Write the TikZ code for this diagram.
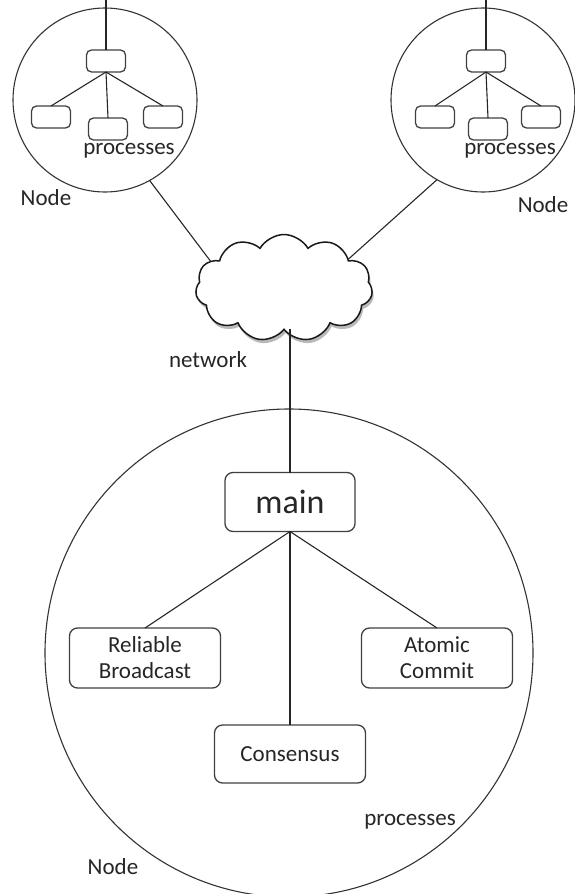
\documentclass[tikz,border=0pt]{standalone}
\usepackage{fontspec}
\setmainfont{Carlito}
\usetikzlibrary{shapes.symbols, shadows}

\begin{document}
\begin{tikzpicture}[
    x=0.5pt, y=-0.5pt,
    font=\fontsize{11.5}{13}\selectfont,
    every node/.style={inner sep=1.5pt, text=black!85},
    host/.style    ={circle, draw=black!80, line width=0.55pt,
                     minimum size=92pt, inner sep=0pt, outer sep=0pt},
    proc/.style    ={rectangle, rounded corners=2.5pt, draw=black!75,
                     line width=0.65pt, minimum width=19.5pt,
                     minimum height=11pt, outer sep=0pt},
    module/.style  ={proc, rounded corners=4pt, minimum width=75.5pt,
                     minimum height=30pt, align=center},
    link/.style    ={line width=0.55pt, draw=black!85},
    lbl/.style     ={font=\fontsize{11.5}{13}\selectfont},
    netcloud/.style={cloud, cloud puffs=11, cloud puff arc=120, aspect=1.65,
                     draw=black!90, line width=0.75pt, fill=white,
                     minimum width=88.5pt, minimum height=53.5pt,
                     inner sep=0pt, outer sep=0pt,
                     drop shadow={shadow xshift=0.8pt, shadow yshift=-1.8pt,
                                  fill=black!55}},
  ]
  \useasboundingbox (0,0) rectangle (574,894);

  %% --- network in the middle ---------------------------------------------
  \node[netcloud] (net) at (284,288) {};
  \node[lbl] (netlbl) at (208,360) {network};

  %% =====================================================================
  %% Top-left host
  %% =====================================================================
  \node[host] (hostL) at (105,100) {};
  \coordinate (inL) at (106,0);
  \node[proc] (pL)  at (106,61)  {};
  \node[proc] (pLa) at (51,117)  {};
  \node[proc] (pLb) at (108,129) {};
  \node[proc] (pLc) at (163,117) {};
  \draw[link] (inL) -- (pL.north);
  \draw[link] (pL.south) -- (pLa.north);
  \draw[link] (pL.south) -- (pLb.north);
  \draw[link] (pL.south) -- (pLc.north);
  \node[lbl] (procL) at (129,151) {processes};
  \node[lbl] (nodeL) at (46,198)  {Node};

  %% =====================================================================
  %% Top-right host
  %% =====================================================================
  \node[host] (hostR) at (483,100) {};
  \coordinate (inR) at (486,0);
  \node[proc] (pR)  at (486,61)  {};
  \node[proc] (pRa) at (435,117) {};
  \node[proc] (pRb) at (488,129) {};
  \node[proc] (pRc) at (541,117) {};
  \draw[link] (inR) -- (pR.north);
  \draw[link] (pR.south) -- (pRa.north);
  \draw[link] (pR.south) -- (pRb.north);
  \draw[link] (pR.south) -- (pRc.north);
  \node[lbl] (procR) at (510,151) {processes};
  \node[lbl] (nodeR) at (543,205) {Node};

  %% =====================================================================
  %% Bottom host, zoomed in
  %% =====================================================================
  \node[host, minimum size=244pt] (hostB) at (289,653) {};
  \node[module, minimum width=65pt, minimum height=29.5pt,
        font=\fontsize{17}{20}\selectfont] (main) at (290,502) {main};
  \node[module] (rb)   at (145,658) {Reliable\\Broadcast};
  \node[module] (ac)   at (437,658) {Atomic\\Commit};
  \node[module, minimum height=29pt] (cons) at (290,754) {Consensus};
  \draw[link] (main.south) -- (rb.north);
  \draw[link] (main.south) -- (ac.north);
  \draw[link] (main.south) -- (cons.north);
  \node[lbl] (procB) at (410,822) {processes};
  \node[lbl] (nodeB) at (113,867) {Node};

  %% --- links between hosts and the network ------------------------------
  \draw[link] (hostL.299) -- (net.160);
  \draw[link] (hostR.240) -- (net.24);
  \draw[link] (main.north) -- (main.north |- net.south);
\end{tikzpicture}
\end{document}
